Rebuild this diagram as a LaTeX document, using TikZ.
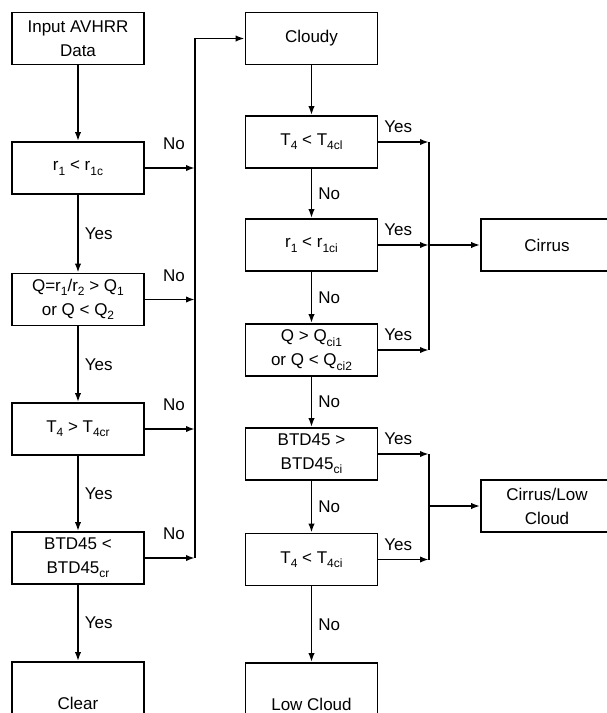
\documentclass[tikz,border=0pt]{standalone}
\usepackage{fontspec}
\setmainfont{Liberation Sans}
\usetikzlibrary{arrows.meta}
\newcommand\lowsub[1]{\raisebox{-2.2pt}{\fontsize{6}{6}\selectfont #1}}

\begin{document}
\begin{tikzpicture}[
    x=0.5pt, y=-0.5pt,
    font=\fontsize{8.5}{12}\selectfont,
    line width=0.9pt,
    box/.style={draw, minimum width=66pt, minimum height=26pt, align=center, inner sep=1pt},
    endbox/.style={box, minimum height=41pt},
    arr/.style={-{Latex[length=4.5pt,width=3.2pt]}},
    dlbl/.style={anchor=west, inner sep=0pt, xshift=3pt},
    nolbl/.style={anchor=south, inner sep=0pt, xshift=2pt, yshift=8.5pt},
    yeslbl/.style={pos=0, anchor=south west, inner sep=0pt, xshift=2.5pt, yshift=4pt}
]
    \useasboundingbox (0,0) rectangle (606,713);

    % Cloud / clear tests
    \node[box] (input) at (78,38.5) {Input AVHRR\\Data};
    \node[box] (r1) at (78,168) {r\lowsub{1} < r\lowsub{1c}};
    \node[box] (q) at (78,299.5) {Q=r\lowsub{1}/r\lowsub{2} > Q\lowsub{1}\\or Q < Q\lowsub{2}};
    \node[box] (t4) at (78,429) {T\lowsub{4} > T\lowsub{4cr}};
    \node[box] (btd) at (78,558) {BTD45 <\\BTD45\lowsub{cr}};
    \node[endbox] (clear) at (78,703) {Clear};

    % Cloud type tests
    \node[box] (cloudy) at (311.5,38.5) {Cloudy};
    \node[box] (t4cl) at (311.5,142) {T\lowsub{4} < T\lowsub{4cl}};
    \node[box] (r1ci) at (311.5,245) {r\lowsub{1} < r\lowsub{1ci}};
    \node[box] (qci) at (311.5,350) {Q > Q\lowsub{ci1}\\or Q < Q\lowsub{ci2}};
    \node[box] (btdci) at (311.5,454) {BTD45 >\\BTD45\lowsub{ci}};
    \node[box] (t4ci) at (311.5,559.5) {T\lowsub{4} < T\lowsub{4ci}};
    \node[endbox] (lowcloud) at (311.5,704) {Low Cloud};

    % Results
    \node[box] (cirrus) at (547,245) {Cirrus};
    \node[box] (cirrusl) at (547,506) {Cirrus/Low\\Cloud};

    \coordinate (lbus) at (195,38.5);
    \coordinate (rbus) at (429,142);

    % Left column
    \draw[arr] (input) -- (r1);
    \foreach \a/\b in {r1/q,q/t4,t4/btd,btd/clear}
        \draw[arr] (\a) -- node[dlbl] {Yes} (\b);
    \foreach \n in {r1,q,t4,btd}
        \draw[arr] (\n.east) -- node[nolbl] {No} (\n.east -| lbus);
    \draw[arr] (btd.east -| lbus) -- (lbus) -- (cloudy.west);

    % Middle column
    \draw[arr] (cloudy) -- (t4cl);
    \foreach \a/\b in {t4cl/r1ci,r1ci/qci,qci/btdci,btdci/t4ci,t4ci/lowcloud}
        \draw[arr] (\a) -- node[dlbl] {No} (\b);
    \foreach \n in {t4cl,r1ci,qci,btdci,t4ci}
        \draw[arr] (\n.east) -- node[yeslbl] {Yes} (\n.east -| rbus);

    % Right buses
    \draw (t4cl.east -| rbus) -- (qci.east -| rbus);
    \draw[arr] (r1ci.east -| rbus) -- (cirrus);
    \draw (btdci.east -| rbus) -- (t4ci.east -| rbus);
    \draw[arr] (cirrusl.west -| rbus) -- (cirrusl);
\end{tikzpicture}
\end{document}
